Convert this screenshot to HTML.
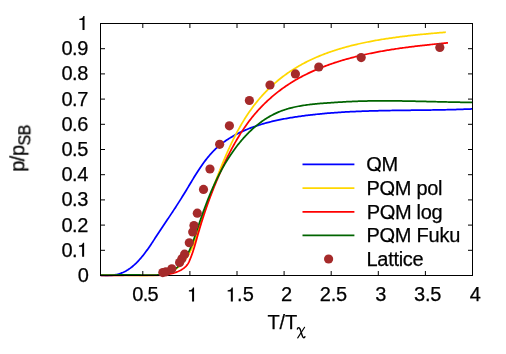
<!DOCTYPE html>
<html>
<head>
<meta charset="utf-8">
<title>p/pSB vs T/T chi</title>
<style>
html, body { margin: 0; padding: 0; background: #ffffff; }
body { width: 506px; height: 354px; overflow: hidden; font-family: "Liberation Sans", sans-serif; }
svg { display: block; }
</style>
</head>
<body>
<svg width="506" height="354" viewBox="0 0 506 354">
<rect x="0" y="0" width="506" height="354" fill="#ffffff"/>
<defs><clipPath id="pc"><rect x="100.00" y="23.00" width="373.00" height="253.60"/></clipPath></defs>
<g fill="none" stroke-width="1.75" stroke-linejoin="round" stroke-linecap="butt" clip-path="url(#pc)">
<path stroke="#0000ff" d="M100.50,275.40 L101.73,275.54 L102.96,275.65 L104.19,275.73 L105.41,275.78 L106.63,275.79 L107.85,275.77 L109.06,275.72 L110.26,275.63 L111.46,275.51 L112.65,275.36 L113.83,275.18 L115.00,274.96 L116.16,274.70 L117.31,274.42 L118.45,274.10 L119.57,273.74 L120.68,273.36 L121.77,272.93 L122.85,272.48 L123.91,271.99 L124.96,271.46 L125.99,270.91 L127.00,270.32 L128.00,269.70 L128.98,269.05 L129.94,268.38 L130.89,267.68 L131.82,266.96 L132.74,266.21 L133.65,265.44 L134.54,264.65 L135.41,263.84 L136.27,263.01 L137.12,262.17 L137.95,261.30 L138.78,260.43 L139.58,259.54 L140.38,258.64 L141.16,257.73 L141.93,256.81 L142.69,255.88 L143.44,254.94 L144.18,253.99 L144.91,253.04 L145.63,252.07 L146.34,251.10 L147.05,250.12 L147.75,249.14 L148.44,248.15 L149.13,247.16 L149.81,246.16 L150.49,245.16 L151.16,244.15 L151.83,243.14 L152.50,242.14 L153.16,241.13 L153.83,240.12 L154.49,239.11 L155.15,238.10 L155.82,237.09 L156.48,236.08 L157.14,235.08 L157.81,234.07 L158.47,233.07 L159.14,232.07 L159.80,231.07 L160.46,230.07 L161.13,229.07 L161.79,228.07 L162.46,227.07 L163.12,226.07 L163.79,225.08 L164.45,224.08 L165.12,223.09 L165.78,222.09 L166.44,221.09 L167.11,220.10 L167.77,219.11 L168.43,218.11 L169.09,217.12 L169.75,216.12 L170.41,215.13 L171.07,214.13 L171.73,213.13 L172.39,212.14 L173.04,211.14 L173.70,210.14 L174.35,209.14 L175.00,208.15 L175.65,207.15 L176.30,206.14 L176.95,205.14 L177.60,204.14 L178.24,203.13 L178.89,202.13 L179.53,201.12 L180.17,200.11 L180.81,199.10 L181.44,198.09 L182.08,197.08 L182.71,196.06 L183.34,195.05 L183.97,194.03 L184.60,193.01 L185.22,191.98 L185.84,190.96 L186.46,189.93 L187.08,188.90 L187.70,187.87 L188.32,186.84 L188.93,185.81 L189.55,184.78 L190.17,183.75 L190.78,182.71 L191.40,181.68 L192.02,180.65 L192.64,179.62 L193.27,178.59 L193.89,177.57 L194.52,176.54 L195.15,175.52 L195.79,174.50 L196.43,173.48 L197.07,172.46 L197.72,171.45 L198.38,170.44 L199.04,169.44 L199.70,168.44 L200.37,167.44 L201.05,166.45 L201.73,165.46 L202.42,164.48 L203.12,163.50 L203.83,162.53 L204.54,161.57 L205.26,160.61 L206.00,159.66 L206.73,158.72 L207.48,157.79 L208.24,156.86 L209.01,155.95 L209.78,155.04 L210.57,154.14 L211.37,153.26 L212.18,152.38 L212.99,151.52 L213.82,150.66 L214.67,149.82 L215.52,148.99 L216.38,148.18 L217.26,147.37 L218.15,146.58 L219.05,145.81 L219.97,145.04 L220.89,144.29 L221.83,143.56 L222.78,142.83 L223.74,142.12 L224.71,141.42 L225.69,140.74 L226.67,140.06 L227.67,139.40 L228.68,138.75 L229.70,138.12 L230.72,137.49 L231.75,136.88 L232.79,136.28 L233.84,135.69 L234.90,135.11 L235.96,134.54 L237.03,133.98 L238.10,133.44 L239.18,132.90 L240.27,132.38 L241.36,131.86 L242.45,131.36 L243.55,130.86 L244.66,130.38 L245.77,129.91 L246.88,129.44 L247.99,128.99 L249.11,128.55 L250.23,128.11 L251.35,127.69 L252.48,127.27 L253.61,126.86 L254.74,126.47 L255.87,126.08 L257.01,125.69 L258.15,125.32 L259.29,124.96 L260.43,124.60 L261.57,124.25 L262.72,123.91 L263.87,123.58 L265.02,123.26 L266.17,122.94 L267.33,122.63 L268.49,122.32 L269.64,122.03 L270.81,121.74 L271.97,121.45 L273.13,121.18 L274.30,120.91 L275.46,120.64 L276.63,120.39 L277.80,120.13 L278.97,119.89 L280.14,119.65 L281.32,119.41 L282.49,119.18 L283.67,118.96 L284.84,118.74 L286.02,118.52 L287.20,118.31 L288.38,118.11 L289.56,117.91 L290.74,117.71 L291.92,117.52 L293.10,117.33 L294.29,117.14 L295.47,116.96 L296.65,116.79 L297.84,116.61 L299.02,116.44 L300.21,116.27 L301.39,116.11 L302.58,115.95 L303.77,115.79 L304.95,115.64 L306.14,115.48 L307.33,115.34 L308.52,115.19 L309.70,115.05 L310.89,114.91 L312.08,114.77 L313.27,114.64 L314.46,114.51 L315.65,114.38 L316.84,114.25 L318.03,114.13 L319.22,114.01 L320.41,113.89 L321.60,113.78 L322.79,113.67 L323.98,113.56 L325.18,113.45 L326.37,113.35 L327.56,113.24 L328.75,113.15 L329.95,113.05 L331.14,112.95 L332.33,112.86 L333.53,112.77 L334.72,112.68 L335.91,112.60 L337.11,112.52 L338.30,112.43 L339.50,112.36 L340.69,112.28 L341.89,112.20 L343.09,112.13 L344.28,112.06 L345.48,111.99 L346.67,111.93 L347.87,111.86 L349.07,111.80 L350.26,111.74 L351.46,111.68 L352.66,111.62 L353.85,111.56 L355.05,111.51 L356.25,111.46 L357.45,111.41 L358.65,111.36 L359.84,111.31 L361.04,111.26 L362.24,111.22 L363.44,111.17 L364.64,111.13 L365.84,111.09 L367.04,111.05 L368.23,111.02 L369.43,110.98 L370.63,110.94 L371.83,110.91 L373.03,110.88 L374.23,110.84 L375.43,110.81 L376.63,110.78 L377.83,110.76 L379.03,110.73 L380.23,110.70 L381.43,110.68 L382.63,110.65 L383.83,110.63 L385.03,110.61 L386.23,110.58 L387.43,110.56 L388.63,110.54 L389.83,110.52 L391.03,110.50 L392.23,110.48 L393.43,110.47 L394.63,110.45 L395.83,110.43 L397.04,110.41 L398.24,110.40 L399.44,110.38 L400.64,110.37 L401.84,110.35 L403.04,110.34 L404.24,110.33 L405.44,110.31 L406.64,110.30 L407.84,110.28 L409.04,110.27 L410.24,110.26 L411.44,110.24 L412.64,110.23 L413.84,110.22 L415.04,110.21 L416.24,110.19 L417.44,110.18 L418.64,110.17 L419.84,110.15 L421.04,110.14 L422.24,110.13 L423.44,110.11 L424.64,110.10 L425.84,110.08 L427.04,110.07 L428.24,110.05 L429.44,110.04 L430.64,110.02 L431.84,110.00 L433.04,109.99 L434.23,109.97 L435.43,109.95 L436.63,109.93 L437.83,109.91 L439.03,109.89 L440.23,109.87 L441.42,109.85 L442.62,109.83 L443.82,109.80 L445.02,109.78 L446.21,109.75 L447.41,109.73 L448.61,109.70 L449.80,109.67 L451.00,109.64 L452.20,109.61 L453.39,109.58 L454.59,109.55 L455.78,109.51 L456.98,109.48 L458.18,109.44 L459.37,109.41 L460.57,109.37 L461.76,109.33 L462.95,109.28 L464.15,109.24 L465.34,109.20 L466.54,109.15 L467.73,109.10 L468.92,109.06 L470.12,109.01 L471.31,108.95 L472.50,108.90"/>
<path stroke="#ffd700" d="M100.50,275.50 L101.70,275.45 L102.90,275.40 L104.10,275.36 L105.30,275.33 L106.50,275.30 L107.70,275.28 L108.90,275.27 L110.09,275.26 L111.29,275.25 L112.48,275.25 L113.67,275.25 L114.87,275.26 L116.06,275.27 L117.25,275.29 L118.44,275.31 L119.64,275.33 L120.83,275.35 L122.02,275.38 L123.21,275.40 L124.41,275.43 L125.60,275.46 L126.79,275.49 L127.99,275.52 L129.18,275.55 L130.38,275.58 L131.57,275.61 L132.77,275.63 L133.97,275.66 L135.17,275.69 L136.37,275.71 L137.57,275.73 L138.77,275.75 L139.97,275.76 L141.18,275.77 L142.39,275.78 L143.59,275.78 L144.80,275.78 L146.02,275.78 L147.23,275.77 L148.45,275.75 L149.66,275.73 L150.88,275.69 L152.09,275.64 L153.30,275.58 L154.51,275.50 L155.72,275.40 L156.92,275.28 L158.11,275.14 L159.30,274.98 L160.49,274.79 L161.66,274.58 L162.83,274.34 L163.99,274.06 L165.13,273.76 L166.27,273.42 L167.39,273.06 L168.50,272.66 L169.59,272.23 L170.67,271.77 L171.73,271.27 L172.78,270.75 L173.80,270.19 L174.80,269.60 L175.78,268.97 L176.74,268.31 L177.68,267.62 L178.59,266.89 L179.48,266.13 L180.34,265.34 L181.18,264.52 L182.00,263.67 L182.80,262.79 L183.57,261.89 L184.32,260.97 L185.05,260.02 L185.76,259.05 L186.45,258.06 L187.11,257.05 L187.76,256.03 L188.38,254.99 L188.99,253.94 L189.58,252.87 L190.15,251.79 L190.70,250.70 L191.23,249.61 L191.74,248.51 L192.24,247.40 L192.72,246.28 L193.18,245.17 L193.63,244.04 L194.06,242.92 L194.49,241.79 L194.90,240.65 L195.30,239.52 L195.69,238.38 L196.07,237.23 L196.44,236.09 L196.81,234.94 L197.17,233.80 L197.53,232.65 L197.88,231.50 L198.23,230.35 L198.58,229.20 L198.92,228.06 L199.27,226.91 L199.62,225.76 L199.97,224.62 L200.32,223.48 L200.67,222.33 L201.04,221.20 L201.40,220.06 L201.78,218.93 L202.16,217.80 L202.55,216.67 L202.94,215.55 L203.33,214.43 L203.74,213.31 L204.14,212.19 L204.55,211.07 L204.96,209.95 L205.37,208.83 L205.78,207.72 L206.19,206.60 L206.61,205.48 L207.02,204.36 L207.43,203.24 L207.84,202.12 L208.26,201.00 L208.67,199.88 L209.08,198.76 L209.49,197.64 L209.90,196.51 L210.32,195.39 L210.73,194.27 L211.14,193.15 L211.56,192.02 L211.97,190.90 L212.39,189.77 L212.80,188.65 L213.22,187.53 L213.64,186.40 L214.06,185.28 L214.48,184.16 L214.90,183.03 L215.32,181.91 L215.74,180.79 L216.17,179.67 L216.59,178.55 L217.02,177.42 L217.45,176.30 L217.88,175.18 L218.32,174.06 L218.75,172.95 L219.19,171.83 L219.63,170.71 L220.07,169.59 L220.51,168.48 L220.95,167.36 L221.40,166.25 L221.85,165.14 L222.30,164.03 L222.76,162.92 L223.22,161.81 L223.68,160.70 L224.14,159.59 L224.61,158.49 L225.07,157.38 L225.55,156.28 L226.02,155.18 L226.50,154.08 L226.98,152.98 L227.46,151.88 L227.95,150.79 L228.44,149.70 L228.94,148.61 L229.44,147.52 L229.94,146.43 L230.45,145.34 L230.96,144.26 L231.47,143.18 L231.99,142.10 L232.51,141.02 L233.04,139.95 L233.57,138.88 L234.10,137.81 L234.64,136.74 L235.19,135.68 L235.74,134.62 L236.29,133.56 L236.85,132.50 L237.41,131.45 L237.98,130.40 L238.55,129.35 L239.13,128.31 L239.72,127.27 L240.31,126.23 L240.90,125.20 L241.50,124.17 L242.11,123.14 L242.72,122.12 L243.34,121.10 L243.96,120.08 L244.59,119.07 L245.23,118.06 L245.87,117.06 L246.52,116.06 L247.18,115.06 L247.84,114.07 L248.51,113.08 L249.18,112.10 L249.86,111.12 L250.55,110.14 L251.24,109.17 L251.95,108.21 L252.65,107.24 L253.37,106.29 L254.09,105.34 L254.82,104.39 L255.56,103.45 L256.31,102.51 L257.06,101.58 L257.82,100.65 L258.59,99.73 L259.36,98.81 L260.15,97.90 L260.94,96.99 L261.74,96.09 L262.55,95.20 L263.36,94.31 L264.18,93.42 L265.01,92.55 L265.85,91.68 L266.69,90.81 L267.54,89.96 L268.40,89.11 L269.26,88.27 L270.13,87.43 L271.01,86.60 L271.89,85.78 L272.78,84.97 L273.67,84.16 L274.57,83.37 L275.48,82.58 L276.39,81.80 L277.31,81.02 L278.23,80.26 L279.16,79.50 L280.09,78.76 L281.03,78.02 L281.98,77.28 L282.92,76.56 L283.88,75.85 L284.84,75.14 L285.81,74.44 L286.78,73.75 L287.75,73.06 L288.73,72.39 L289.72,71.72 L290.71,71.06 L291.71,70.41 L292.71,69.76 L293.71,69.13 L294.72,68.50 L295.74,67.88 L296.76,67.27 L297.78,66.66 L298.81,66.06 L299.84,65.47 L300.88,64.89 L301.92,64.32 L302.97,63.75 L304.02,63.19 L305.07,62.64 L306.13,62.10 L307.19,61.56 L308.26,61.03 L309.33,60.51 L310.41,60.00 L311.49,59.49 L312.57,58.99 L313.65,58.49 L314.74,58.01 L315.84,57.53 L316.93,57.05 L318.03,56.59 L319.14,56.13 L320.24,55.68 L321.35,55.23 L322.46,54.79 L323.58,54.36 L324.70,53.93 L325.82,53.51 L326.94,53.10 L328.07,52.69 L329.20,52.28 L330.33,51.89 L331.47,51.50 L332.61,51.11 L333.75,50.74 L334.89,50.36 L336.03,50.00 L337.18,49.64 L338.33,49.28 L339.48,48.93 L340.63,48.58 L341.78,48.25 L342.94,47.91 L344.10,47.58 L345.26,47.26 L346.42,46.94 L347.58,46.63 L348.75,46.32 L349.91,46.02 L351.08,45.72 L352.25,45.42 L353.42,45.13 L354.59,44.85 L355.76,44.57 L356.93,44.29 L358.10,44.02 L359.28,43.76 L360.45,43.50 L361.63,43.24 L362.80,42.98 L363.98,42.74 L365.16,42.49 L366.34,42.25 L367.51,42.01 L368.69,41.78 L369.87,41.55 L371.05,41.32 L372.23,41.10 L373.40,40.88 L374.58,40.67 L375.76,40.46 L376.94,40.25 L378.12,40.04 L379.30,39.84 L380.48,39.65 L381.66,39.45 L382.83,39.26 L384.01,39.07 L385.19,38.89 L386.37,38.71 L387.55,38.53 L388.73,38.35 L389.91,38.18 L391.09,38.01 L392.27,37.84 L393.45,37.67 L394.63,37.51 L395.81,37.35 L396.99,37.19 L398.18,37.04 L399.36,36.89 L400.54,36.74 L401.72,36.59 L402.91,36.44 L404.09,36.30 L405.27,36.16 L406.46,36.02 L407.64,35.88 L408.82,35.74 L410.01,35.61 L411.19,35.48 L412.38,35.35 L413.57,35.22 L414.75,35.09 L415.94,34.97 L417.13,34.85 L418.32,34.72 L419.50,34.60 L420.69,34.48 L421.88,34.37 L423.07,34.25 L424.26,34.13 L425.45,34.02 L426.65,33.91 L427.84,33.79 L429.03,33.68 L430.22,33.57 L431.42,33.46 L432.61,33.36 L433.81,33.25 L435.00,33.14 L436.20,33.03 L437.40,32.93 L438.60,32.82 L439.80,32.72 L440.99,32.61 L442.19,32.51 L443.40,32.41 L444.60,32.30 L445.80,32.20"/>
<path stroke="#ff0000" d="M100.50,275.50 L101.72,275.51 L102.94,275.52 L104.16,275.53 L105.37,275.54 L106.58,275.54 L107.79,275.55 L108.99,275.55 L110.19,275.55 L111.39,275.55 L112.59,275.55 L113.78,275.55 L114.98,275.55 L116.17,275.54 L117.36,275.54 L118.55,275.53 L119.73,275.53 L120.92,275.52 L122.11,275.52 L123.29,275.51 L124.48,275.50 L125.66,275.49 L126.85,275.49 L128.03,275.48 L129.22,275.47 L130.40,275.47 L131.59,275.46 L132.78,275.45 L133.97,275.45 L135.16,275.44 L136.35,275.44 L137.54,275.44 L138.74,275.43 L139.94,275.43 L141.14,275.43 L142.34,275.43 L143.55,275.43 L144.75,275.43 L145.97,275.44 L147.18,275.44 L148.40,275.45 L149.62,275.45 L150.84,275.45 L152.06,275.45 L153.28,275.44 L154.50,275.43 L155.72,275.40 L156.94,275.37 L158.16,275.32 L159.38,275.26 L160.59,275.19 L161.79,275.10 L163.00,275.00 L164.20,274.88 L165.39,274.74 L166.58,274.57 L167.76,274.39 L168.93,274.18 L170.10,273.94 L171.25,273.68 L172.40,273.39 L173.54,273.07 L174.67,272.72 L175.79,272.34 L176.89,271.93 L177.99,271.48 L179.07,270.99 L180.14,270.47 L181.19,269.90 L182.22,269.29 L183.21,268.64 L184.16,267.94 L185.06,267.19 L185.91,266.39 L186.69,265.52 L187.40,264.60 L188.03,263.62 L188.60,262.60 L189.12,261.53 L189.60,260.45 L190.06,259.35 L190.51,258.24 L190.95,257.13 L191.37,256.01 L191.78,254.89 L192.18,253.76 L192.58,252.62 L192.96,251.48 L193.33,250.34 L193.69,249.19 L194.05,248.04 L194.40,246.89 L194.74,245.73 L195.08,244.58 L195.42,243.42 L195.75,242.26 L196.08,241.09 L196.41,239.93 L196.73,238.77 L197.06,237.60 L197.38,236.44 L197.71,235.28 L198.04,234.11 L198.37,232.95 L198.70,231.80 L199.04,230.64 L199.38,229.48 L199.72,228.33 L200.06,227.18 L200.41,226.03 L200.76,224.88 L201.11,223.73 L201.47,222.58 L201.82,221.43 L202.19,220.29 L202.55,219.15 L202.91,218.01 L203.28,216.87 L203.65,215.73 L204.03,214.59 L204.41,213.45 L204.79,212.32 L205.17,211.19 L205.55,210.05 L205.94,208.92 L206.33,207.79 L206.73,206.67 L207.12,205.54 L207.52,204.41 L207.92,203.29 L208.33,202.16 L208.74,201.04 L209.15,199.92 L209.56,198.80 L209.98,197.68 L210.40,196.56 L210.82,195.45 L211.24,194.33 L211.67,193.22 L212.10,192.10 L212.54,190.99 L212.97,189.88 L213.41,188.77 L213.86,187.66 L214.30,186.55 L214.75,185.45 L215.20,184.34 L215.66,183.23 L216.11,182.13 L216.57,181.03 L217.04,179.93 L217.50,178.82 L217.97,177.72 L218.45,176.62 L218.92,175.52 L219.40,174.43 L219.88,173.33 L220.37,172.23 L220.85,171.14 L221.35,170.04 L221.84,168.95 L222.34,167.86 L222.84,166.77 L223.34,165.67 L223.85,164.58 L224.36,163.50 L224.87,162.41 L225.39,161.32 L225.91,160.24 L226.43,159.15 L226.96,158.07 L227.49,156.99 L228.03,155.92 L228.57,154.84 L229.11,153.77 L229.66,152.70 L230.22,151.63 L230.77,150.56 L231.33,149.50 L231.90,148.43 L232.47,147.38 L233.05,146.32 L233.63,145.27 L234.21,144.21 L234.80,143.17 L235.40,142.12 L236.00,141.08 L236.60,140.04 L237.21,139.01 L237.83,137.98 L238.45,136.95 L239.07,135.93 L239.71,134.91 L240.34,133.89 L240.99,132.88 L241.64,131.87 L242.29,130.87 L242.95,129.87 L243.62,128.87 L244.29,127.88 L244.97,126.90 L245.66,125.92 L246.35,124.94 L247.05,123.97 L247.75,123.00 L248.46,122.04 L249.18,121.08 L249.91,120.13 L250.64,119.18 L251.38,118.24 L252.12,117.31 L252.87,116.38 L253.63,115.46 L254.40,114.54 L255.18,113.63 L255.96,112.72 L256.75,111.82 L257.54,110.93 L258.34,110.04 L259.15,109.16 L259.97,108.28 L260.79,107.41 L261.62,106.55 L262.46,105.69 L263.30,104.84 L264.15,104.00 L265.01,103.16 L265.87,102.33 L266.74,101.51 L267.61,100.69 L268.50,99.88 L269.38,99.08 L270.28,98.28 L271.18,97.49 L272.08,96.71 L272.99,95.93 L273.91,95.16 L274.83,94.40 L275.76,93.65 L276.70,92.90 L277.64,92.16 L278.58,91.42 L279.53,90.70 L280.49,89.98 L281.45,89.27 L282.42,88.57 L283.39,87.87 L284.36,87.18 L285.34,86.50 L286.33,85.83 L287.32,85.16 L288.32,84.51 L289.32,83.86 L290.33,83.21 L291.34,82.58 L292.35,81.95 L293.37,81.33 L294.39,80.72 L295.42,80.11 L296.45,79.52 L297.49,78.92 L298.53,78.34 L299.58,77.76 L300.63,77.19 L301.68,76.63 L302.74,76.07 L303.80,75.53 L304.86,74.98 L305.93,74.45 L307.00,73.92 L308.08,73.40 L309.16,72.88 L310.24,72.37 L311.32,71.87 L312.41,71.37 L313.51,70.88 L314.60,70.40 L315.70,69.92 L316.80,69.45 L317.91,68.98 L319.02,68.52 L320.13,68.07 L321.24,67.62 L322.36,67.18 L323.48,66.75 L324.60,66.32 L325.72,65.89 L326.85,65.47 L327.98,65.06 L329.11,64.65 L330.25,64.25 L331.38,63.86 L332.52,63.47 L333.66,63.08 L334.81,62.70 L335.95,62.33 L337.10,61.96 L338.25,61.59 L339.40,61.23 L340.55,60.88 L341.70,60.53 L342.86,60.19 L344.02,59.85 L345.18,59.51 L346.34,59.18 L347.50,58.86 L348.66,58.54 L349.83,58.22 L350.99,57.91 L352.16,57.60 L353.33,57.30 L354.49,57.00 L355.66,56.71 L356.84,56.42 L358.01,56.14 L359.18,55.86 L360.35,55.58 L361.53,55.31 L362.70,55.04 L363.87,54.77 L365.05,54.51 L366.22,54.26 L367.40,54.00 L368.58,53.75 L369.75,53.51 L370.93,53.27 L372.11,53.03 L373.28,52.79 L374.46,52.56 L375.63,52.33 L376.81,52.11 L377.99,51.89 L379.16,51.67 L380.34,51.45 L381.52,51.24 L382.70,51.03 L383.87,50.83 L385.05,50.63 L386.23,50.43 L387.40,50.23 L388.58,50.03 L389.76,49.84 L390.94,49.66 L392.12,49.47 L393.30,49.29 L394.48,49.11 L395.65,48.93 L396.83,48.75 L398.01,48.58 L399.19,48.41 L400.37,48.24 L401.56,48.07 L402.74,47.91 L403.92,47.75 L405.10,47.59 L406.28,47.43 L407.46,47.28 L408.65,47.12 L409.83,46.97 L411.02,46.82 L412.20,46.67 L413.38,46.53 L414.57,46.38 L415.76,46.24 L416.94,46.10 L418.13,45.96 L419.32,45.82 L420.50,45.68 L421.69,45.54 L422.88,45.41 L424.07,45.28 L425.26,45.15 L426.45,45.01 L427.64,44.89 L428.83,44.76 L430.03,44.63 L431.22,44.50 L432.41,44.38 L433.61,44.25 L434.80,44.13 L436.00,44.00 L437.20,43.88 L438.39,43.76 L439.59,43.64 L440.79,43.52 L441.99,43.40 L443.19,43.28 L444.39,43.16 L445.59,43.04 L446.80,42.92 L448.00,42.80"/>
<path stroke="#006400" d="M100.50,275.00 L101.74,275.02 L102.97,275.04 L104.20,275.05 L105.42,275.06 L106.63,275.06 L107.84,275.06 L109.04,275.06 L110.24,275.06 L111.44,275.05 L112.63,275.04 L113.81,275.03 L115.00,275.02 L116.18,275.00 L117.36,274.99 L118.53,274.98 L119.71,274.96 L120.88,274.95 L122.06,274.93 L123.23,274.92 L124.41,274.91 L125.58,274.90 L126.76,274.89 L127.94,274.88 L129.12,274.87 L130.30,274.87 L131.49,274.87 L132.68,274.87 L133.87,274.88 L135.07,274.89 L136.27,274.90 L137.48,274.92 L138.70,274.95 L139.92,274.97 L141.14,275.01 L142.37,275.04 L143.61,275.08 L144.84,275.12 L146.08,275.15 L147.33,275.18 L148.57,275.20 L149.81,275.21 L151.04,275.21 L152.28,275.20 L153.51,275.18 L154.73,275.13 L155.95,275.07 L157.16,274.99 L158.37,274.88 L159.56,274.75 L160.74,274.60 L161.92,274.41 L163.07,274.19 L164.22,273.94 L165.35,273.66 L166.46,273.34 L167.56,272.98 L168.64,272.58 L169.70,272.14 L170.74,271.65 L171.76,271.12 L172.76,270.54 L173.74,269.93 L174.70,269.28 L175.64,268.59 L176.56,267.86 L177.46,267.10 L178.33,266.31 L179.18,265.49 L180.02,264.64 L180.83,263.76 L181.62,262.86 L182.39,261.93 L183.13,260.98 L183.86,260.01 L184.56,259.01 L185.24,258.01 L185.89,256.98 L186.53,255.94 L187.14,254.89 L187.73,253.83 L188.30,252.76 L188.84,251.68 L189.37,250.59 L189.88,249.49 L190.37,248.38 L190.85,247.27 L191.31,246.15 L191.75,245.03 L192.19,243.90 L192.62,242.77 L193.03,241.63 L193.44,240.49 L193.84,239.35 L194.23,238.20 L194.62,237.06 L195.01,235.91 L195.39,234.76 L195.77,233.62 L196.16,232.47 L196.54,231.33 L196.92,230.18 L197.31,229.04 L197.69,227.90 L198.08,226.76 L198.46,225.62 L198.85,224.48 L199.24,223.35 L199.63,222.21 L200.02,221.08 L200.41,219.94 L200.80,218.81 L201.20,217.68 L201.59,216.55 L201.99,215.42 L202.39,214.30 L202.79,213.17 L203.19,212.05 L203.60,210.92 L204.01,209.80 L204.42,208.68 L204.83,207.56 L205.25,206.45 L205.67,205.33 L206.09,204.22 L206.51,203.10 L206.94,201.99 L207.37,200.88 L207.81,199.77 L208.25,198.67 L208.69,197.56 L209.13,196.46 L209.58,195.35 L210.03,194.25 L210.49,193.15 L210.95,192.06 L211.42,190.96 L211.89,189.87 L212.36,188.78 L212.84,187.68 L213.33,186.60 L213.82,185.51 L214.31,184.42 L214.81,183.34 L215.31,182.26 L215.82,181.18 L216.34,180.10 L216.86,179.02 L217.38,177.95 L217.92,176.88 L218.45,175.81 L219.00,174.74 L219.55,173.67 L220.10,172.61 L220.67,171.55 L221.23,170.49 L221.81,169.43 L222.39,168.37 L222.98,167.32 L223.58,166.27 L224.18,165.22 L224.79,164.17 L225.41,163.13 L226.03,162.09 L226.66,161.05 L227.30,160.02 L227.94,158.99 L228.59,157.96 L229.25,156.94 L229.91,155.93 L230.58,154.91 L231.26,153.91 L231.95,152.90 L232.64,151.91 L233.34,150.91 L234.05,149.93 L234.76,148.95 L235.48,147.97 L236.21,147.00 L236.95,146.04 L237.69,145.08 L238.44,144.13 L239.20,143.19 L239.96,142.26 L240.73,141.33 L241.51,140.41 L242.30,139.50 L243.09,138.59 L243.89,137.69 L244.70,136.80 L245.51,135.92 L246.34,135.05 L247.17,134.19 L248.01,133.33 L248.85,132.49 L249.70,131.65 L250.56,130.83 L251.43,130.01 L252.31,129.21 L253.19,128.41 L254.08,127.62 L254.98,126.85 L255.89,126.09 L256.80,125.33 L257.72,124.59 L258.65,123.86 L259.59,123.14 L260.53,122.43 L261.48,121.74 L262.44,121.05 L263.41,120.38 L264.38,119.72 L265.37,119.08 L266.36,118.45 L267.36,117.83 L268.37,117.22 L269.38,116.63 L270.40,116.05 L271.43,115.48 L272.47,114.93 L273.52,114.39 L274.57,113.87 L275.64,113.36 L276.71,112.87 L277.79,112.39 L278.87,111.93 L279.97,111.48 L281.07,111.05 L282.18,110.63 L283.30,110.23 L284.43,109.84 L285.56,109.47 L286.71,109.12 L287.85,108.78 L289.01,108.45 L290.17,108.13 L291.34,107.83 L292.51,107.54 L293.69,107.26 L294.87,106.99 L296.06,106.74 L297.25,106.50 L298.45,106.26 L299.65,106.04 L300.85,105.83 L302.06,105.63 L303.27,105.43 L304.48,105.25 L305.70,105.07 L306.91,104.91 L308.13,104.75 L309.35,104.59 L310.58,104.45 L311.80,104.31 L313.02,104.18 L314.25,104.05 L315.47,103.93 L316.70,103.81 L317.92,103.70 L319.15,103.60 L320.37,103.49 L321.59,103.39 L322.81,103.30 L324.03,103.21 L325.25,103.12 L326.46,103.03 L327.67,102.94 L328.88,102.86 L330.09,102.78 L331.29,102.70 L332.49,102.62 L333.68,102.53 L334.88,102.46 L336.07,102.38 L337.25,102.30 L338.44,102.23 L339.62,102.15 L340.80,102.08 L341.99,102.01 L343.17,101.94 L344.35,101.87 L345.52,101.80 L346.70,101.74 L347.88,101.68 L349.06,101.62 L350.24,101.56 L351.42,101.51 L352.60,101.46 L353.78,101.41 L354.96,101.36 L356.15,101.31 L357.33,101.27 L358.52,101.23 L359.71,101.19 L360.89,101.16 L362.08,101.12 L363.27,101.09 L364.46,101.06 L365.65,101.03 L366.85,101.01 L368.04,100.98 L369.23,100.96 L370.43,100.94 L371.62,100.92 L372.82,100.91 L374.01,100.89 L375.21,100.88 L376.41,100.87 L377.61,100.86 L378.81,100.86 L380.01,100.85 L381.21,100.85 L382.41,100.84 L383.61,100.84 L384.81,100.84 L386.01,100.85 L387.22,100.85 L388.42,100.85 L389.62,100.86 L390.83,100.87 L392.03,100.88 L393.24,100.89 L394.44,100.90 L395.65,100.91 L396.85,100.92 L398.06,100.94 L399.27,100.95 L400.47,100.97 L401.68,100.99 L402.89,101.01 L404.09,101.03 L405.30,101.05 L406.51,101.07 L407.72,101.09 L408.92,101.11 L410.13,101.13 L411.34,101.16 L412.55,101.18 L413.75,101.21 L414.96,101.23 L416.17,101.26 L417.38,101.29 L418.58,101.31 L419.79,101.34 L421.00,101.37 L422.21,101.40 L423.41,101.43 L424.62,101.46 L425.83,101.48 L427.03,101.51 L428.24,101.54 L429.45,101.57 L430.65,101.60 L431.86,101.63 L433.06,101.66 L434.27,101.69 L435.47,101.72 L436.67,101.75 L437.88,101.78 L439.08,101.81 L440.28,101.84 L441.48,101.87 L442.69,101.89 L443.89,101.92 L445.09,101.95 L446.29,101.98 L447.49,102.00 L448.69,102.03 L449.88,102.06 L451.08,102.08 L452.28,102.11 L453.47,102.13 L454.67,102.15 L455.86,102.18 L457.06,102.20 L458.25,102.22 L459.44,102.24 L460.63,102.26 L461.82,102.28 L463.01,102.30 L464.20,102.31 L465.39,102.33 L466.58,102.34 L467.76,102.36 L468.95,102.37 L470.13,102.38 L471.32,102.39 L472.50,102.40"/>
</g>
<g stroke="#000000" stroke-width="1" fill="none" shape-rendering="auto">
<rect x="100.50" y="23.50" width="372.00" height="252.00"/>
<path d="M100.50,250.30 h4.50 M472.50,250.30 h-4.50 M100.50,225.10 h4.50 M472.50,225.10 h-4.50 M100.50,199.90 h4.50 M472.50,199.90 h-4.50 M100.50,174.70 h4.50 M472.50,174.70 h-4.50 M100.50,149.50 h4.50 M472.50,149.50 h-4.50 M100.50,124.30 h4.50 M472.50,124.30 h-4.50 M100.50,99.10 h4.50 M472.50,99.10 h-4.50 M100.50,73.90 h4.50 M472.50,73.90 h-4.50 M100.50,48.70 h4.50 M472.50,48.70 h-4.50 M142.80,275.50 v-4.50 M142.80,23.50 v4.50 M189.90,275.50 v-4.50 M189.90,23.50 v4.50 M237.00,275.50 v-4.50 M237.00,23.50 v4.50 M284.10,275.50 v-4.50 M284.10,23.50 v4.50 M331.20,275.50 v-4.50 M331.20,23.50 v4.50 M378.30,275.50 v-4.50 M378.30,23.50 v4.50 M425.40,275.50 v-4.50 M425.40,23.50 v4.50"/>
</g>
<g fill="#a52a2a">
<circle cx="162.80" cy="272.60" r="4.60"/>
<circle cx="165.90" cy="271.80" r="4.60"/>
<circle cx="171.80" cy="268.80" r="4.60"/>
<circle cx="179.60" cy="262.60" r="4.60"/>
<circle cx="181.90" cy="258.70" r="4.60"/>
<circle cx="184.60" cy="254.20" r="4.60"/>
<circle cx="189.30" cy="242.75" r="4.60"/>
<circle cx="192.70" cy="231.90" r="4.60"/>
<circle cx="193.95" cy="225.50" r="4.60"/>
<circle cx="197.30" cy="213.15" r="4.60"/>
<circle cx="203.50" cy="189.45" r="4.60"/>
<circle cx="209.95" cy="169.00" r="4.60"/>
<circle cx="219.65" cy="144.35" r="4.60"/>
<circle cx="229.40" cy="125.80" r="4.60"/>
<circle cx="249.40" cy="100.50" r="4.60"/>
<circle cx="270.00" cy="85.00" r="4.60"/>
<circle cx="295.40" cy="73.90" r="4.60"/>
<circle cx="318.80" cy="67.00" r="4.60"/>
<circle cx="361.20" cy="57.60" r="4.60"/>
<circle cx="439.80" cy="47.50" r="4.60"/>
</g>
<g fill="none" stroke-width="1.75">
<path stroke="#0000ff" d="M302.5,164.40 H354.4"/>
<path stroke="#ffd700" d="M302.5,188.10 H354.4"/>
<path stroke="#ff0000" d="M302.5,211.80 H354.4"/>
<path stroke="#006400" d="M302.5,235.40 H354.4"/>
</g>
<circle cx="328.6" cy="259.00" r="4.60" fill="#a52a2a"/>
<g font-family="'Liberation Sans', sans-serif" font-size="20px" fill="#000000" stroke="#000000" stroke-width="0.25" stroke-linejoin="round" opacity="0.999">
<path fill="none" stroke-width="1.64" stroke-linecap="butt" d="M375.10,167.10 L380.20,171.60"/>
<text x="366.20 381.56" y="170.90">OM</text>
<path fill="none" stroke-width="1.64" stroke-linecap="butt" d="M388.51,191.10 L393.61,195.60"/>
<text x="366.60 379.61 394.84 411.17 416.39 427.19 437.98" y="194.90">POM&#160;pol</text>
<path fill="none" stroke-width="1.64" stroke-linecap="butt" d="M388.64,214.80 L393.74,219.30"/>
<text x="366.70 379.74 395.00 411.36 416.61 420.76 431.58" y="218.60">POM&#160;log</text>
<path fill="none" stroke-width="1.64" stroke-linecap="butt" d="M388.45,238.40 L393.55,242.90"/>
<text x="366.46 379.55 394.86 411.27 416.57 428.54 439.41 449.16" y="242.20">POM&#160;Fuku</text>
<text x="366.46 377.29 388.13 393.39 398.66 402.81 412.52" y="265.80">Lattice</text>
<text x="77.68" y="281.90">0</text>
<path transform="translate(76.93,256.70) scale(0.02000,-0.01970)" stroke-width="2.5" d="M259 0V505H101V568C238 585 271 610 302 709H359V0Z"/>
<text x="61.40 72.12 77.28" y="256.70">0.&#160;</text>
<text x="61.40 72.12 77.28" y="231.50">0.2</text>
<text x="61.40 72.12 77.28" y="206.30">0.3</text>
<text x="61.40 72.12 77.28" y="181.10">0.4</text>
<text x="61.40 72.12 77.28" y="155.90">0.5</text>
<text x="61.40 72.12 77.28" y="130.70">0.6</text>
<text x="61.40 72.12 77.28" y="105.50">0.7</text>
<text x="61.40 72.12 77.28" y="80.30">0.8</text>
<text x="61.40 72.12 77.28" y="55.10">0.9</text>
<path transform="translate(77.33,29.90) scale(0.02000,-0.01970)" stroke-width="2.5" d="M259 0V505H101V568C238 585 271 610 302 709H359V0Z"/>
<text x="77.68" y="29.90">&#160;</text>
<text x="132.30 142.72 147.58" y="301.40">0.5</text>
<path transform="translate(186.89,301.40) scale(0.02000,-0.01970)" stroke-width="2.5" d="M259 0V505H101V568C238 585 271 610 302 709H359V0Z"/>
<text x="187.24" y="301.40">&#160;</text>
<path transform="translate(225.65,301.40) scale(0.02000,-0.01970)" stroke-width="2.5" d="M259 0V505H101V568C238 585 271 610 302 709H359V0Z"/>
<text x="226.00 237.12 242.68" y="301.40">&#160;.5</text>
<text x="280.94" y="301.40">2</text>
<text x="319.80 330.67 335.98" y="301.40">2.5</text>
<text x="375.34" y="301.40">3</text>
<text x="414.10 424.97 430.28" y="301.40">3.5</text>
<text x="469.64" y="301.40">4</text>
<text x="267.60 279.62 284.97" y="328.90">T/T</text>
<g fill="none" stroke="#000000" stroke-linecap="round" stroke-linejoin="round">
<path stroke-width="1.15" d="M304.6,327.3 L297.75,337.9"/>
<path stroke-width="1.4" d="M297.4,329.0 C297.55,327.9 298.4,327.35 299.2,327.85 C300.2,328.5 300.8,330.8 301.3,332.6 C301.9,334.8 302.5,337.2 303.5,337.7 C304.3,338.0 304.75,337.3 304.9,336.6"/>
</g>
<g transform="translate(24.3,171.75) rotate(-90)">
<text x="0.00 10.62 15.68" y="0.00">p/p</text>
<text x="26.30 36.48" y="5.80" font-size="16px">SB</text>
</g>
</g>
</svg>
</body>
</html>
